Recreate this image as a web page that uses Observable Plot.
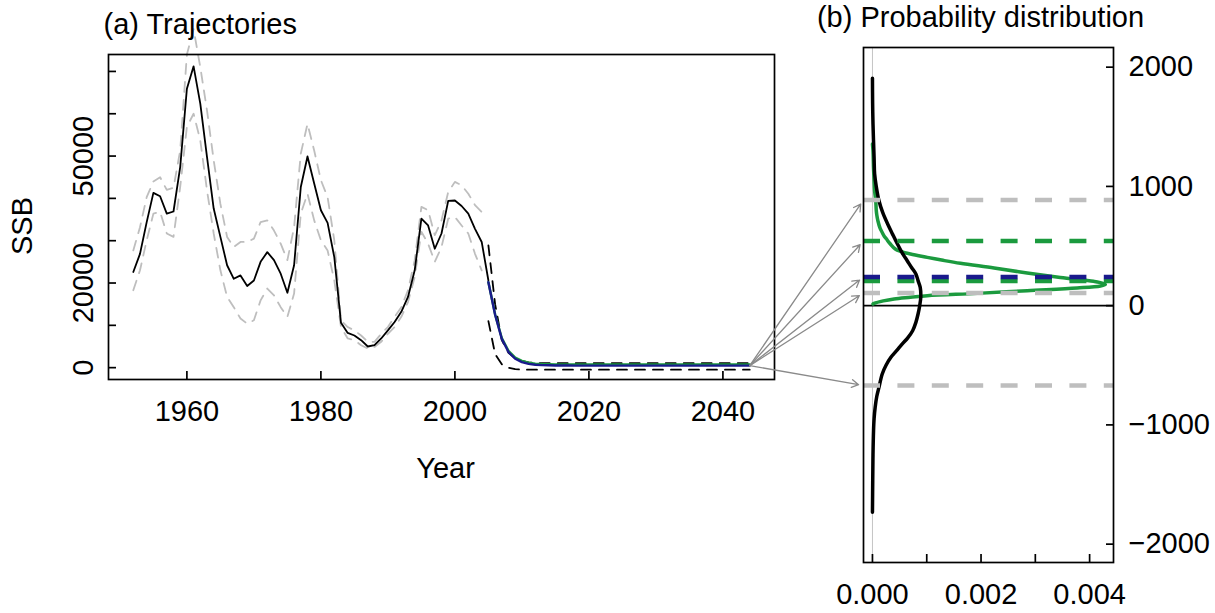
<!DOCTYPE html>
<html><head><meta charset="utf-8">
<script src="https://cdn.jsdelivr.net/npm/d3@7"></script>
<script src="https://cdn.jsdelivr.net/npm/@observablehq/plot@0.6"></script>
<style>
body{margin:0;background:#fff;}
#wrap{position:relative;width:1215px;height:613px;overflow:hidden;background:#fff;}
#wrap svg{position:absolute;left:0;top:0;}
</style></head><body><div id="wrap"></div>
<script>
// ---------- Panel (a) data ----------
const histYears = [1952,1953,1954,1955,1956,1957,1958,1959,1960,1961,1962,1963,1964,1965,1966,1967,1968,1969,1970,1971,1972,1973,1974,1975,1976,1977,1978,1979,1980,1981,1982,1983,1984,1985,1986,1987,1988,1989,1990,1991,1992,1993,1994,1995,1996,1997,1998,1999,2000,2001,2002,2003,2004,2005];
const histSSB = [22600,26900,34400,41300,40500,36400,36900,47400,65900,71200,62400,49800,37600,30900,24200,21000,21800,19300,20600,25000,27300,25400,22200,17700,24200,42700,49900,43500,37200,34200,26100,10600,8200,7600,6500,5000,5300,6900,8800,10800,13200,16700,23000,35200,33600,28100,31700,39400,39500,38200,36400,32800,29700,20600];
const ciYears = [1952,1953,1954,1955,1956,1957,1958,1959,1960,1961,1962,1963,1964,1965,1966,1967,1968,1969,1970,1971,1972,1973,1974,1975,1976,1977,1978,1979,1980,1981,1982,1983,1984,1985,1986,1987,1988,1989,1990,1991,1992,1993,1994,1995,1996,1997,1998,1999,2000,2001,2002,2003,2004];
const histUpper = [27700,33200,40300,44000,45000,42000,42500,51300,74000,80000,71000,60800,49000,38700,30900,28500,29700,29700,30500,34400,34800,32400,29300,25400,33200,50600,57600,51300,44300,40300,30100,11200,9600,8800,7600,6100,6100,8000,9600,12000,14300,18300,25400,38000,37200,31300,34800,41500,43900,43100,41100,38400,36800];
const histLower = [18300,23000,30100,36400,36800,31700,30900,42700,56900,60000,53700,41900,31700,23000,16700,14300,11600,10400,11200,15900,18700,17100,14300,12000,17500,36400,41100,34800,30100,27700,20600,9600,6900,6500,5300,4500,4900,6100,8000,9600,12000,15500,21400,32100,29300,25000,28500,35200,35600,33600,31700,26900,23000];
const projYears = [2005,2006,2007,2008,2009,2010,2011,2012,2013,2014,2015,2016,2017,2018,2019,2020,2021,2022,2023,2024,2025,2026,2027,2028,2029,2030,2031,2032,2033,2034,2035,2036,2037,2038,2039,2040,2041,2042,2043,2044];
const projMean = [20200,12500,6800,3700,2100,1300,900,700,600,550, 520,500,500,490,490,480,480,480,480,480, 480,480,480,480,480,480,480,480,480,480, 480,480,480,480,480,480,480,480,480,480];
const projMedian = [20200,12600,7000,4000,2400,1600,1200,950,850,800, 780,760,750,740,740,730,730,730,730,730, 730,730,730,730,730,730,730,730,730,730, 730,730,730,730,730,730,730,730,730,730];
const projUpper = [28900,15000,6500,3500,2200,1600,1250,1100,1060,1050, 1050,1050,1050,1050,1050,1050,1050,1050,1050,1050, 1050,1050,1050,1050,1050,1050,1050,1050,1050,1050, 1050,1050,1050,1050,1050,1050,1050,1050,1050,1050];
const projLower = [11000,3200,800,0,-350,-450,-470,-470,-470,-470, -470,-470,-470,-470,-470,-470,-470,-470,-470,-470, -470,-470,-470,-470,-470,-470,-470,-470,-470,-470, -470,-470,-470,-470,-470,-470,-470,-470,-470,-470];
const yearTicks = [1960,1980,2000,2020,2040];
const ssbTicks = [0,10000,20000,30000,40000,50000,60000,70000];
const ssbTickLabels = ["0","","20000","","","50000","",""];

// ---------- Panel (b) data ----------
const blackDensY = [1908,1700,1523,1243,1104,1000,880,780,685,600,517,440,377,320,266,210,153,70,0,-70,-140,-210,-270,-321,-380,-433,-500,-573,-685,-760,-852,-950,-1048,-1250,-1467,-1733];
const blackDensX = [0,0.000003,0.00001,0.00003,0.00004,0.00007,0.00012,0.00019,0.00028,0.00037,0.00046,0.00055,0.00064,0.00072,0.00080,0.00084,0.00088,0.00089,0.00087,0.00084,0.00080,0.00074,0.00065,0.00055,0.00044,0.00034,0.00025,0.00018,0.00012,0.00008,0.00005,0.00003,0.00002,0.00001,0.000005,0];
const greenDensY = [14,19,40,56,70,84,103,126,148,165,178,195,204,237,274,316,355,380,405,433,455,475,517,545,559,580,614,650,712,760,800,880,960,1048,1150,1299,1355];
const greenDensX = [0.00001,0.00003,0.0002,0.0004,0.0007,0.00101,0.00193,0.00285,0.00377,0.0042,0.00429,0.00418,0.00407,0.00346,0.00285,0.00224,0.00162,0.0013,0.00101,0.0007,0.00052,0.00042,0.00033,0.00028,0.00026,0.00022,0.00018,0.00014,0.0001,0.00008,0.00007,0.00006,0.00004,0.00003,0.00002,0.00001,0];
const grayQuantiles = [886,106,-670];
const greenQuantiles = [542,207];
const navyQuantiles = [240];
const arrowTargets = [886,542,240,106,-670];
const densTicks = [0,0.001,0.002,0.003,0.004];
const densTickLabels = ["0.000","","0.002","","0.004"];
const bTicks = [-2000,-1000,0,1000,2000];
const bTickLabels = ["\u22122000","\u22121000","0","1000","2000"];

// ---------- layout / style ----------
const W = 1215, H = 613;
const FONT = "'Liberation Sans', Arial, Helvetica, sans-serif";
const GREEN = "#1b9a3e", NAVY = "#1a1a8c", LGRAY = "#bebebe";
const style = {background: "transparent", fontFamily: FONT, fontSize: "29px", color: "black", overflow: "visible"};

const rowsOf = (xs, ys) => xs.map((x, i) => ({x, y: ys[i]}));
const histRows = rowsOf(histYears, histSSB);
const upRows = rowsOf(ciYears, histUpper);
const loRows = rowsOf(ciYears, histLower);
const meanRows = rowsOf(projYears, projMean);
const medRows = rowsOf(projYears, projMedian);
const pUpRows = rowsOf(projYears, projUpper);
const pLoRows = rowsOf(projYears, projLower);
const blackRows = rowsOf(blackDensX, blackDensY);
const greenRows = rowsOf(greenDensX, greenDensY);

const lab = (ticks, labels) => { const m = new Map(ticks.map((t, i) => [t, labels[i]])); return d => m.get(d); };

const chartA = Plot.plot({
  width: W, height: H,
  marginLeft: 108, marginRight: W - 774, marginTop: 54, marginBottom: H - 379,
  style,
  x: {domain: [1948.3, 2047.7], axis: null},
  y: {domain: [-2800, 74000], axis: null},
  marks: [
    Plot.line(upRows, {x: "x", y: "y", stroke: LGRAY, strokeWidth: 1.8, strokeDasharray: "10,8"}),
    Plot.line(loRows, {x: "x", y: "y", stroke: LGRAY, strokeWidth: 1.8, strokeDasharray: "10,8"}),
    Plot.line(pUpRows, {x: "x", y: "y", stroke: "black", strokeWidth: 1.8, strokeDasharray: "10,8"}),
    Plot.line(pLoRows, {x: "x", y: "y", stroke: "black", strokeWidth: 1.8, strokeDasharray: "10,8"}),
    Plot.line(histRows, {x: "x", y: "y", stroke: "black", strokeWidth: 1.8}),
    Plot.line(medRows, {x: "x", y: "y", stroke: GREEN, strokeWidth: 2.4}),
    Plot.line(meanRows, {x: "x", y: "y", stroke: NAVY, strokeWidth: 2.4}),
    Plot.frame({stroke: "black", strokeWidth: 1.7}),
    Plot.axisY(ssbTicks, {anchor: "left", tickSize: -8, tickPadding: 24, tickRotate: -90, tickFormat: lab(ssbTicks, ssbTickLabels), strokeWidth: 1.7, label: null}),
    Plot.axisX(yearTicks, {anchor: "bottom", tickSize: -8, tickPadding: 29, tickFormat: d => String(d), strokeWidth: 1.7, label: null}),
    Plot.text(["SSB"], {text: d => d, frameAnchor: "left", rotate: -90, dx: -86, dy: 38}),
    Plot.text(["Year"], {text: d => d, frameAnchor: "bottom", dx: 4, dy: 98}),
    Plot.text(["(a) Trajectories"], {text: d => d, frameAnchor: "top-left", textAnchor: "start", lineAnchor: "bottom", dx: -5, dy: -21})
  ]
});

const optsB = (extra) => ({
  width: W, height: H,
  marginLeft: 863, marginRight: W - 1113, marginTop: 47, marginBottom: H - 562,
  style,
  x: {domain: [-0.000165, 0.00444], axis: null},
  y: {domain: [-2154, 2165], axis: null},
  marks: [
    Plot.ruleX([0], {stroke: "#c4c4c4", strokeWidth: 1}),
    Plot.ruleY([0], {stroke: "black", strokeWidth: 1.6}),
    Plot.line(greenRows, {x: "x", y: "y", stroke: GREEN, strokeWidth: 3.5, curve: "catmull-rom"}),
    Plot.line(blackRows, {x: "x", y: "y", stroke: "black", strokeWidth: 3.5, curve: "catmull-rom"}),
    Plot.ruleY(grayQuantiles, {stroke: LGRAY, strokeWidth: 4.5, strokeDasharray: "17,17.4"}),
    Plot.ruleY(greenQuantiles, {stroke: GREEN, strokeWidth: 4.5, strokeDasharray: "17,17.4"}),
    Plot.ruleY(navyQuantiles, {stroke: NAVY, strokeWidth: 4.5, strokeDasharray: "17,17.4"}),
    Plot.frame({stroke: "black", strokeWidth: 1.7}),
    Plot.axisY(bTicks, {anchor: "right", tickSize: -8, tickPadding: 23, tickFormat: lab(bTicks, bTickLabels), strokeWidth: 1.7, label: null}),
    Plot.axisX(densTicks, {anchor: "bottom", tickSize: -8, tickPadding: 29, tickFormat: lab(densTicks, densTickLabels), strokeWidth: 1.7, label: null}),
    Plot.text(["(b) Probability distribution"], {text: d => d, frameAnchor: "top", lineAnchor: "bottom", dx: -8, dy: -21}),
    ...extra
  ]
});

// arrow start: end of the projection in panel (a), mapped into panel (b)'s data space
const chartB0 = Plot.plot(optsB([]));
const inv = s => (s.invert ? (v => s.invert(v)) : d3.scaleLinear(s.domain, s.range).invert);
const sxA = chartA.scale("x"), syA = chartA.scale("y");
const sxB = chartB0.scale("x"), syB = chartB0.scale("y");
const lastYear = projYears[projYears.length - 1], lastVal = projMean[projMean.length - 1];
const x0 = inv(sxB)(sxA.apply(lastYear)), y0 = inv(syB)(syA.apply(lastVal));
const arrowRows = arrowTargets.map(v => ({x1: x0, y1: y0, x2: sxB.domain[0], y2: v}));

const chartB = Plot.plot(optsB([
  Plot.arrow(arrowRows, {x1: "x1", y1: "y1", x2: "x2", y2: "y2", stroke: "#8a8a8a", strokeWidth: 1.3, headLength: 9, insetEnd: 5})
]));

const wrap = document.getElementById("wrap");
wrap.appendChild(chartA);
wrap.appendChild(chartB);
</script></body></html>
